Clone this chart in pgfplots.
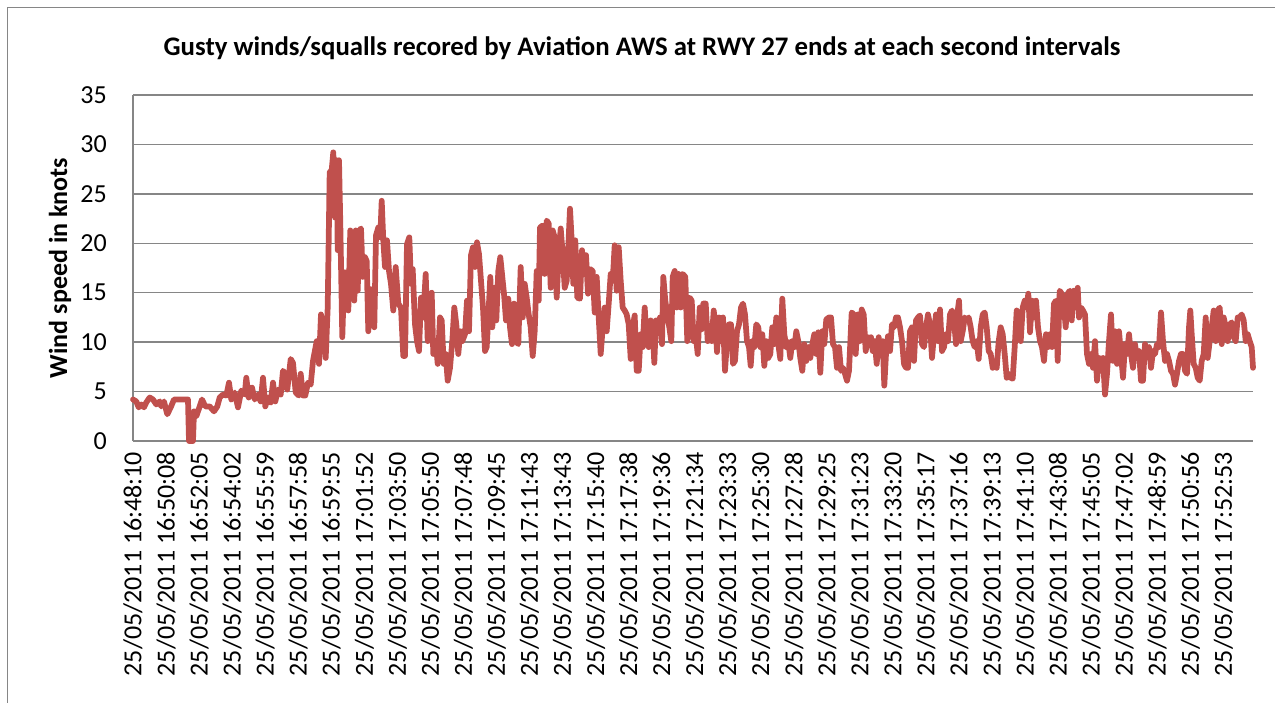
\documentclass[border=0pt]{standalone}
\usepackage{pgfplots}
\pgfplotsset{compat=1.18}
\usepackage{pgfplotstable}
\usepackage{fontspec}
\setmainfont{Carlito}
\definecolor{linered}{HTML}{C0504D}
\definecolor{gridgray}{HTML}{868686}
\pgfplotstableread{
x y
0 4.2
3.3 4.0
5.7 3.4
8.3 3.7
11 3.4
13.3 3.9
16.7 4.4
20 4.2
23.3 3.7
26.7 4.0
28.3 3.5
31 4.0
34.3 2.7
37.7 3.4
41 4.2
55 4.2
56 0
60 0
61 3.0
63.3 2.5
65.7 3.2
69 4.2
72.3 3.5
76.7 3.5
81 3.0
84.3 3.5
86.7 4.4
90 4.7
93.3 4.6
96 5.9
98.3 4.2
101.7 4.9
105 3.4
108.3 5.1
111.7 4.7
113.3 6.4
115.7 4.4
119 5.4
121.7 4.2
125 4.7
127.7 4.0
130 6.4
132.3 3.5
135 4.4
137.7 3.9
140 5.9
142.3 4.0
145 5.2
147.7 4.7
150 7.1
152.3 6.8
154.3 5.2
157.7 8.3
160 7.9
162.7 4.9
165.7 4.6
167.7 6.8
170 4.6
172.3 4.6
175 5.9
177.7 5.7
180 8.1
183.7 10.1
186 7.8
188 12.8
190.3 11.5
192.7 8.4
194.7 13.5
196.7 27.2
198.7 27.4
200.3 29.2
202 22.6
203.7 28.4
204.7 19.3
206 28.4
207.3 22.0
209.3 10.5
211.3 17.1
213.7 16.9
215.3 13.2
217.3 21.3
219.3 20.3
221.3 14.2
222.7 21.3
224.7 15.2
226.3 21.3
228 21.5
229.7 16.6
232 18.6
233.7 18.2
235.3 11.1
237.3 15.4
239.3 15.2
241.3 11.5
243 20.8
245.3 21.6
247.3 20.6
248.7 24.3
250.3 20.3
252 17.6
254 20.3
256 17.2
258 15.9
260.3 13.2
262.7 17.6
265.3 13.9
268 13.5
270.3 8.6
272 8.6
274 19.9
276.3 20.6
278 15.9
279.7 17.4
282 11.8
284 10.1
286 9.1
288 14.5
290.3 12.5
292.7 16.9
294.7 10.1
296.7 14.5
298.7 15.0
300.3 8.8
302.7 10.1
304.7 7.8
307 12.5
308.7 12.2
310.7 7.8
312.7 8.8
314.7 6.1
317 7.4
319.3 10.1
321.3 13.5
323.3 11.8
325.3 8.8
327.3 11.1
329.3 10.1
332 10.8
334 14.2
336 11.1
338 18.8
340 19.6
342 17.6
344 20.1
346 18.9
348 16.2
350 13.5
352 9.1
353.7 9.5
355.3 12.5
357.3 16.6
359.3 11.5
361.3 15.5
363.3 12.2
365.3 17.2
367.3 18.6
371 14.9
373 12.2
375.3 14.4
377 11.5
379 9.8
381 13.9
383 10.1
385.3 9.8
387.7 17.6
389.7 12.5
391.7 15.9
393.7 14.5
395.7 12.8
397.7 11.5
399.7 8.6
401.7 11.1
403.7 17.2
405.7 14.2
407 21.6
409.7 21.8
411.7 16.9
413.7 22.3
415.7 22.0
417.7 15.5
419.7 21.3
421.7 20.6
423.7 14.5
425.7 18.9
427.7 21.5
429.7 18.9
431.7 15.5
433.7 16.2
435.3 19.6
437 23.5
438.7 20.3
440.3 15.9
442.3 20.3
444.3 14.5
447 14.4
449 19.3
451 16.9
453 18.8
455 14.9
457 17.4
459.7 17.2
461.7 13.0
463.7 16.6
465.7 12.5
467.7 8.8
469.7 11.5
471.7 13.5
473.7 11.1
475.7 13.9
477.7 16.9
479.7 16.2
481.7 19.8
483.7 15.2
485.7 19.6
487.7 16.2
489.7 13.5
491.7 13.2
493.7 12.8
495.7 11.8
497.7 8.3
499.7 11.5
501.7 12.7
503.7 7.1
505.7 7.1
507.7 10.8
509.7 9.5
511.7 13.5
513.7 10.1
515.7 9.5
517.7 12.2
519.7 11.5
521.3 7.9
523 12.2
525 11.1
527 12.5
529 9.8
530.3 16.6
532.3 14.2
534.3 12.8
536.3 11.5
538.3 10.1
539.7 16.6
541.7 17.2
543.7 13.5
545.7 16.9
547.7 13.5
549.7 16.9
552.3 16.6
554.3 10.1
556.7 14.5
558.7 14.2
560.7 10.1
562.7 10.8
564.7 8.8
566.7 13.5
568.7 11.3
570.3 13.9
572.7 13.9
574.7 10.1
576.7 11.5
578.7 10.1
580.7 13.2
582.7 11.5
584 9.0
586 12.5
588 10.1
590 12.5
592 7.1
594 10.1
596 11.8
598 11.8
600 7.8
602 8.1
604 11.1
606 11.8
608 13.5
610 13.9
612 12.8
614 10.1
616 9.5
617.7 7.6
619.3 10.1
621.3 9.5
623.3 11.8
625.3 11.5
627.3 9.5
629.3 10.8
631.3 7.6
633.3 10.1
635.3 8.4
637.3 8.8
639.3 11.5
641.3 9.8
643.3 12.5
645.3 9.8
647.3 8.3
649.3 14.4
651.3 10.8
653.3 9.5
655.3 10.0
657.3 8.4
659.3 10.1
661.3 9.5
663.3 11.1
665.3 10.1
667.3 8.4
669.3 7.1
671.3 9.8
673.3 8.1
675.3 9.5
677.3 8.4
679.3 9.8
681.3 10.8
683.3 8.8
685.3 11.0
687.3 6.9
689.3 11.1
691.3 9.8
693.3 12.3
696 12.5
698 12.5
700 9.8
702 9.5
704 7.4
706 9.5
708 7.1
710 7.4
712 6.8
714 6.1
716 7.1
718.7 13.0
720.7 12.8
722.7 8.8
724.7 12.8
726.7 10.1
728.7 13.3
730.7 12.8
732.7 9.1
734.7 10.5
736.7 10.1
738 10.5
739.7 9.1
741.7 10.1
743.7 7.8
745.7 10.5
747.7 8.8
749.7 10.1
751.3 5.6
753 8.8
755 10.6
757 9.1
759 11.8
761 11.5
763 12.5
765 12.5
767 11.5
769 10.1
771 7.8
773 7.4
775 7.4
777 11.1
779 11.5
781 8.1
783 12.2
785 12.5
787 12.7
789 9.8
791 9.5
793 11.5
795 12.8
797 11.8
799 8.4
801 10.8
803 12.8
805 10.1
807 13.3
809 9.1
811 9.5
813 10.8
815 10.1
817 12.8
819 13.2
821 12.2
823 9.8
824.3 12.8
826 14.2
827.7 10.1
829.7 11.1
831.7 12.5
833.7 12.2
835.7 12.5
837.7 11.5
839.7 10.1
841.7 9.5
843.7 10.1
845.7 8.3
847.7 11.5
849.7 12.8
851.7 13.0
853.7 11.5
855.7 9.1
857.7 8.8
859.7 7.4
861.7 7.8
863.7 7.4
865.7 10.1
867.7 11.5
869.7 10.8
871.7 8.8
873.7 6.4
875.7 6.8
877.7 6.4
879.7 6.3
881.7 9.5
883.7 13.2
885.7 12.5
887.7 10.1
889.7 13.5
891.7 14.2
893.7 13.5
895.3 14.9
897 11.0
899 14.2
901 12.5
903 14.2
905 11.5
907 10.1
909 9.5
911 8.1
913 10.8
915 9.5
917 10.8
919 9.5
921 13.9
923 14.2
924.7 8.1
926.7 15.2
928.7 14.9
930.7 13.9
932.7 11.5
934.7 14.9
936.7 15.2
938.7 12.2
940.7 15.2
942.7 13.5
944.7 15.5
946 12.5
948 13.5
950 13.2
952 12.8
954 8.8
956 7.8
958 8.8
960 7.4
962 10.1
964 6.1
966 8.4
968 7.4
970 8.4
972 4.7
974 6.8
976 10.1
978 12.8
980 8.1
982 11.1
984 7.8
986 11.1
988 8.8
990 6.4
992 9.8
994 8.8
996 10.8
998 8.8
1000 7.4
1002 9.8
1004 8.4
1006 9.1
1008 6.1
1010 6.1
1012 9.8
1014 8.8
1016 9.5
1018 7.4
1020 9.1
1022 8.8
1024 9.8
1026 9.5
1028 13.0
1030 10.1
1032 8.1
1034 8.8
1036 8.1
1038 7.1
1040 6.8
1042 5.7
1044 6.8
1046 8.1
1048 8.8
1050 8.8
1052 7.1
1054 6.8
1056 11.5
1057.3 13.2
1058.7 10.8
1060.7 7.8
1062.7 7.4
1064.7 6.4
1066.7 6.1
1068.7 8.1
1070.7 8.8
1072.7 12.5
1074.7 8.4
1076.7 10.1
1078.7 11.5
1080.7 13.2
1082.7 10.1
1084.7 13.2
1086.7 13.5
1088.7 9.8
1090.7 12.5
1092.7 11.5
1094.7 10.1
1096.7 11.8
1098.7 12.0
1100.7 10.5
1102.7 10.1
1104.7 12.5
1106.7 12.5
1108.7 12.8
1110.7 12.2
1112.7 10.1
1114.7 10.8
1116.7 10.1
1118.7 9.5
1120 7.4
}\windtable
\begin{document}
\begin{tikzpicture}
\path[use as bounding box] (-99.75pt,-196.5pt) rectangle (856.5pt,330.75pt);
\draw[gridgray, line width=1.1pt] (-94pt,-210pt) -- (-94pt,325pt) -- (880pt,325pt);
\begin{axis}[
  at={(0pt,0pt)}, anchor=south west,
  scale only axis, width=840pt, height=259.5pt,
  xmin=0, xmax=1120, ymin=0, ymax=35,
  ytick={0,5,...,35},
  xtick={0,33.04,...,1091},
  xticklabels={25/05/2011 16:48:10,25/05/2011 16:50:08,25/05/2011 16:52:05,25/05/2011 16:54:02,25/05/2011 16:55:59,25/05/2011 16:57:58,25/05/2011 16:59:55,25/05/2011 17:01:52,25/05/2011 17:03:50,25/05/2011 17:05:50,25/05/2011 17:07:48,25/05/2011 17:09:45,25/05/2011 17:11:43,25/05/2011 17:13:43,25/05/2011 17:15:40,25/05/2011 17:17:38,25/05/2011 17:19:36,25/05/2011 17:21:34,25/05/2011 17:23:33,25/05/2011 17:25:30,25/05/2011 17:27:28,25/05/2011 17:29:25,25/05/2011 17:31:23,25/05/2011 17:33:20,25/05/2011 17:35:17,25/05/2011 17:37:16,25/05/2011 17:39:13,25/05/2011 17:41:10,25/05/2011 17:43:08,25/05/2011 17:45:05,25/05/2011 17:47:02,25/05/2011 17:48:59,25/05/2011 17:50:56,25/05/2011 17:52:53},
  axis x line=bottom, axis y line=left,
  axis line style={gridgray, line width=1.1pt, -},
  major tick length=0pt,
  ymajorgrids, grid style={gridgray, line width=1.1pt},
  /pgf/number format/assume math mode=true,
  xticklabel style={rotate=90, anchor=east, inner sep=0pt, font=\fontsize{19.5}{23}\selectfont},
  xticklabel shift=8pt,
  yticklabel style={anchor=east, inner sep=0pt, font=\fontsize{19.5}{23}\selectfont},
  yticklabel shift=19.5pt,
  title={Gusty winds/squalls recored by Aviation AWS at RWY 27 ends at each second intervals},
  title style={at={(axis description cs:0.4545,1)}, anchor=center, yshift=29pt, inner sep=0pt, font=\bfseries\fontsize{20.1}{24}\selectfont},
  ylabel={Wind speed in knots},
  every axis y label/.style={at={(axis description cs:0,0.5)}, xshift=-54.75pt, rotate=90, anchor=center, font=\bfseries\fontsize{19.5}{23}\selectfont},
  clip=false,
]
\addplot[linered, line width=4.3pt, line join=round, line cap=round, mark=none] table[x=x,y=y]{\windtable};
\end{axis}
\end{tikzpicture}
\end{document}
